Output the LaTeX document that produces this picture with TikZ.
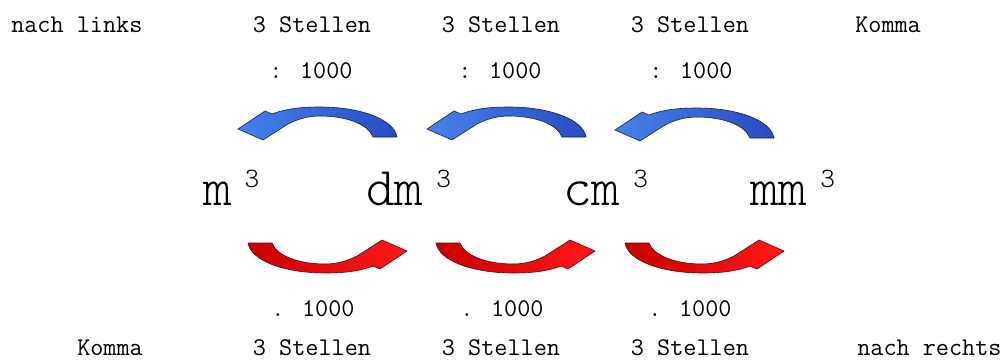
\documentclass[tikz,border=0pt]{standalone}
\usepackage{fontspec}
\newfontfamily\lmlight{Latin Modern Mono Light}
\definecolor{blueL}{RGB}{70,130,235}
\definecolor{blueD}{RGB}{40,75,195}
\definecolor{blueE}{RGB}{20,30,90}
\definecolor{redL}{RGB}{255,25,25}
\definecolor{redD}{RGB}{200,0,0}
\definecolor{redE}{RGB}{90,10,10}
\tikzset{
  small/.style={font=\ttfamily\fontsize{19.1}{22}\selectfont, inner sep=0pt, anchor=base},
  unit/.style={font=\lmlight\fontsize{41}{44}\selectfont, inner sep=0pt, anchor=base west},
  bluearrow/.style={left color=blueL, right color=blueD, draw=blueE, line width=0.45pt},
  redarrow/.style={left color=redD, right color=redL, draw=redE, line width=0.45pt}
}
\newcommand\curvearrowshape[1]{%
  \path[#1] (0,22) -- (27,4) -- (34,7)
    .. controls (50,1) and (66,0) .. (82,0)
    .. controls (122,0) and (156,12) .. (159,30)
    -- (135,30)
    .. controls (130,17) and (108,9) .. (82,9)
    .. controls (70,9) and (60,12) .. (50,17)
    -- (25,33) -- cycle;}
\newcommand\supthree{\hspace{9.5pt}\raisebox{13.5pt}{\fontsize{21}{21}\selectfont 3}}
\begin{document}
\begin{tikzpicture}[x=0.75pt, y=-0.75pt]
\useasboundingbox (0,0) rectangle (1005,361);
% top row
\node[small, anchor=base west] (nl) at (11,32) {nach links};
\node[small] (s1) at (312,32) {3 Stellen};
\node[small] (s2) at (501,32) {3 Stellen};
\node[small] (s3) at (690,32) {3 Stellen};
\node[small, anchor=base west] (k1) at (855,32) {Komma};
\node[small] (d1) at (311,78) {: 1000};
\node[small] (d2) at (500,78) {: 1000};
\node[small] (d3) at (691,78) {: 1000};
% blue arrows
\begin{scope}[shift={(238,107)}]\curvearrowshape{bluearrow}\end{scope}
\begin{scope}[shift={(427,107)}]\curvearrowshape{bluearrow}\end{scope}
\begin{scope}[shift={(615,108)}]\curvearrowshape{bluearrow}\end{scope}
% units
\node[unit] (u1) at (203,205) {m\supthree};
\node[unit] (u2) at (366,205) {dm\supthree};
\node[unit] (u3) at (563,205) {cm\supthree};
\node[unit] (u4) at (750,205) {mm\supthree};
% red arrows
\begin{scope}[shift={(407,273)}, rotate=180]\curvearrowshape{redarrow}\end{scope}
\begin{scope}[shift={(595,273)}, rotate=180]\curvearrowshape{redarrow}\end{scope}
\begin{scope}[shift={(784,273)}, rotate=180]\curvearrowshape{redarrow}\end{scope}
% bottom rows
\node[small] (m1) at (313,316) {. 1000};
\node[small] (m2) at (502,316) {. 1000};
\node[small] (m3) at (690,316) {. 1000};
\node[small, anchor=base west] (k2) at (77,355) {Komma};
\node[small] (b1) at (312,355) {3 Stellen};
\node[small] (b2) at (501,355) {3 Stellen};
\node[small] (b3) at (690,355) {3 Stellen};
\node[small, anchor=base west] (nr) at (857,355) {nach rechts};
\end{tikzpicture}
\end{document}
